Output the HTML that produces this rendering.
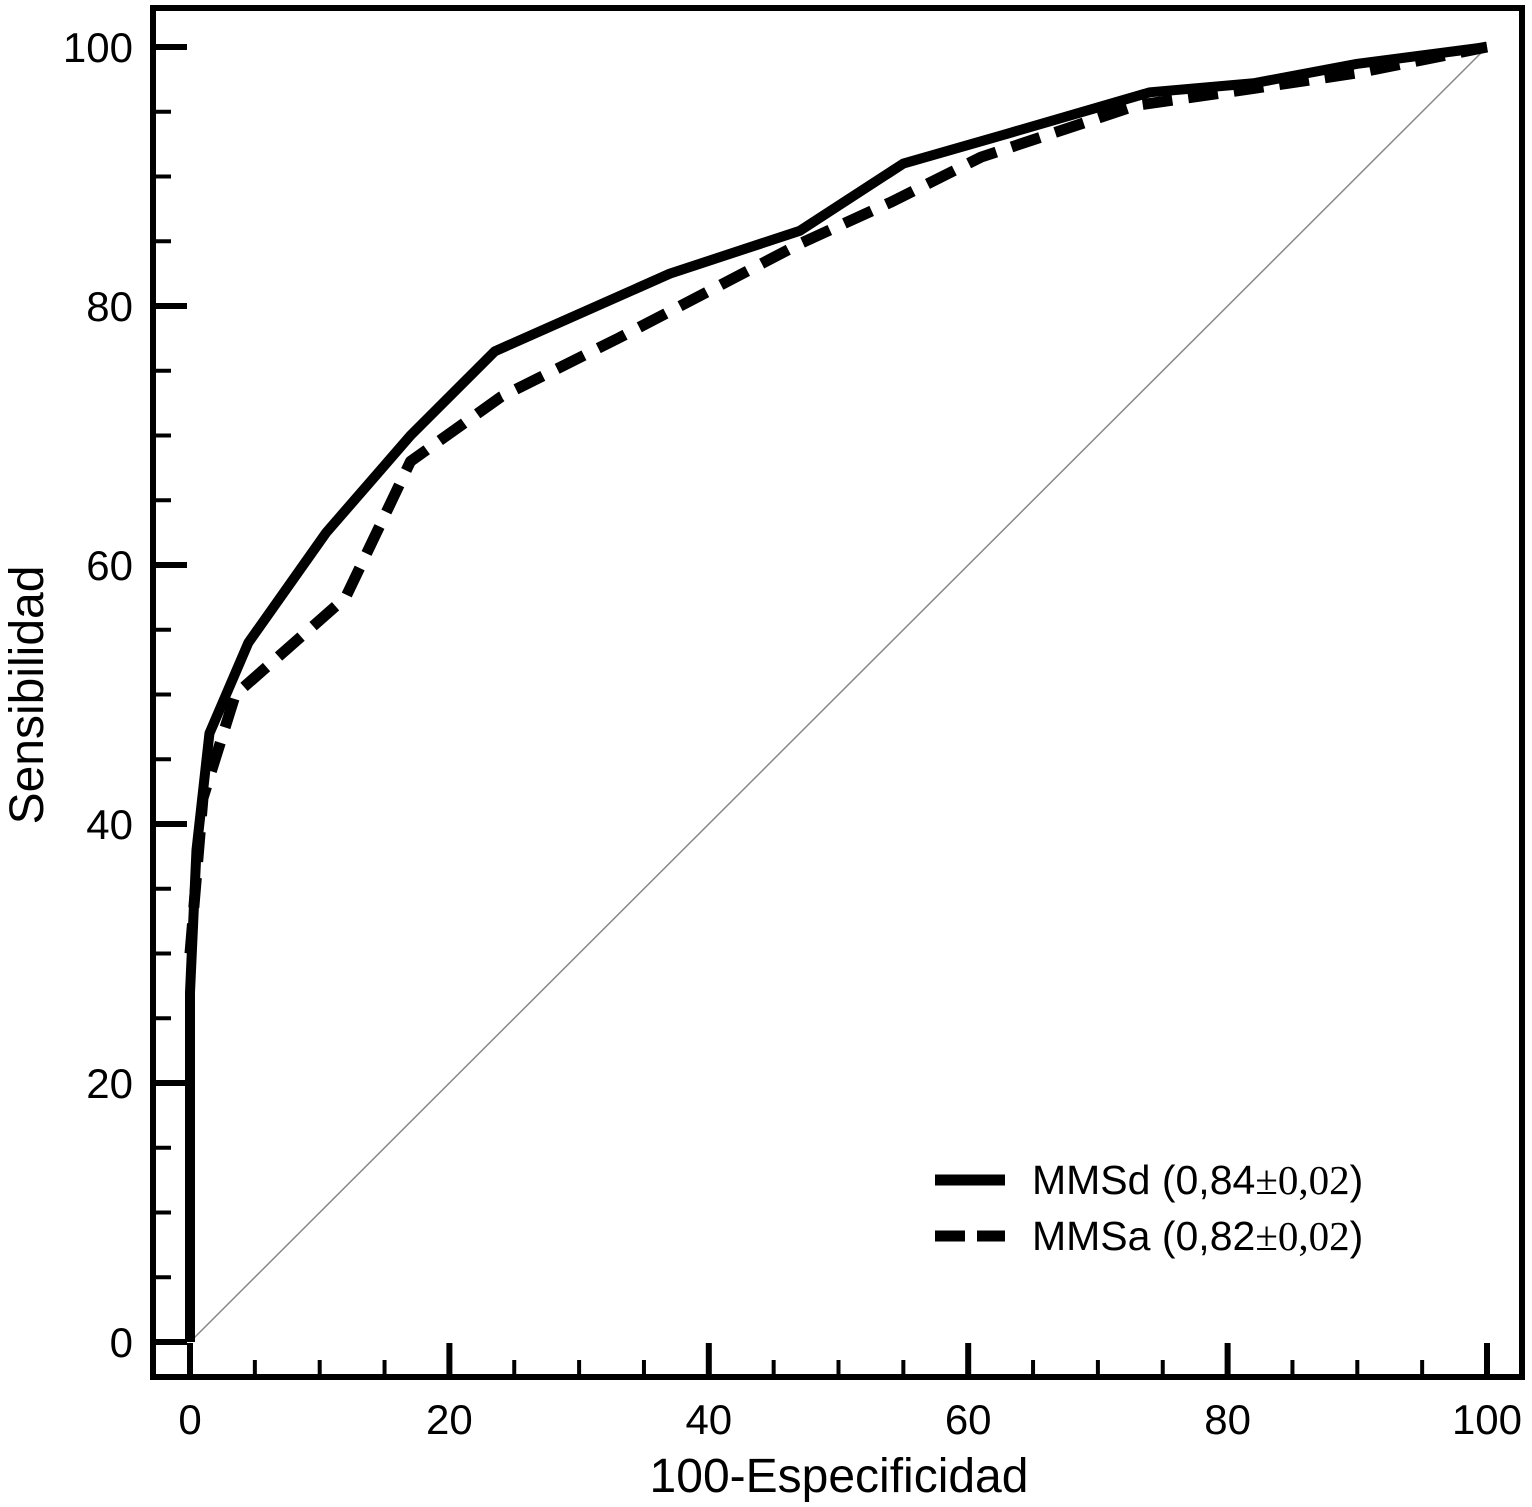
<!DOCTYPE html>
<html><head><meta charset="utf-8"><style>
body{margin:0;background:#fff}
svg text{font-family:"Liberation Sans",sans-serif;fill:#000}
</style></head><body>
<svg width="1532" height="1502" viewBox="0 0 1532 1502" xmlns="http://www.w3.org/2000/svg">
<rect x="153" y="8" width="1369" height="1369" fill="none" stroke="#000" stroke-width="6"/>
<g id="ticks"></g>
<g id="labels"></g>
<line id="diag" stroke="#888" stroke-width="1.5"/>
<polyline id="dashed" fill="none" stroke="#000" stroke-width="11" stroke-dasharray="30,16" stroke-linejoin="round"/>
<polyline id="solid" fill="none" stroke="#000" stroke-width="10" stroke-linejoin="round"/>
<text x="839" y="1492" font-size="48" text-anchor="middle">100-Especificidad</text>
<text transform="translate(43,695) rotate(-90)" font-size="48" text-anchor="middle">Sensibilidad</text>
<g>
<line x1="935" y1="1180" x2="1005" y2="1180" stroke="#000" stroke-width="11"/>
<text x="1032" y="1194" font-size="41">MMSd (0,84<tspan font-family="Liberation Serif">±0,02</tspan>)</text>
<line x1="935" y1="1236" x2="1005" y2="1236" stroke="#000" stroke-width="11" stroke-dasharray="30,12"/>
<text x="1032" y="1250" font-size="41">MMSa (0,82<tspan font-family="Liberation Serif">±0,02</tspan>)</text>
</g>
</svg>
<script>
const mmsdX=[0,0,0.5,1.5,4.5,10.5,17,23.5,37,47,55,63,74,82,90,100];
const mmsdY=[0,27,38,47,54,62.5,70,76.5,82.5,85.8,91,93.3,96.5,97.2,98.7,100];
const mmsaX=[0,1,3.5,12,17,24,33,47,54,61,73,82,90,100];
const mmsaY=[30,42,50,57.5,68,73,77.5,84.8,88,91.5,95.5,96.8,98,100];
const tickLabels=[0,20,40,60,80,100];
const sx=v=>190+v*12.97, sy=v=>1342-v*12.95;
const NS="http://www.w3.org/2000/svg";
const pts=(X,Y)=>X.map((x,i)=>sx(x)+","+sy(Y[i])).join(" ");
document.getElementById('solid').setAttribute('points',pts(mmsdX,mmsdY));
document.getElementById('dashed').setAttribute('points',pts(mmsaX,mmsaY));
const d=document.getElementById('diag');
d.setAttribute('x1',sx(0));d.setAttribute('y1',sy(0));d.setAttribute('x2',sx(100));d.setAttribute('y2',sy(100));
const tg=document.getElementById('ticks'),lg=document.getElementById('labels');
for(let v=0;v<=100;v+=5){
 const major=v%20===0;
 let l=document.createElementNS(NS,'line');
 
 
 l.setAttribute('x1',153);l.setAttribute('x2',major?187:171);l.setAttribute('y1',sy(v));l.setAttribute('y2',sy(v));
 l.setAttribute('stroke','#000');l.setAttribute('stroke-width',major?6:4);tg.appendChild(l);
 let m=document.createElementNS(NS,'line');
 
 
 m.setAttribute('y1',1377);m.setAttribute('y2',major?1343:1360);m.setAttribute('x1',sx(v));m.setAttribute('x2',sx(v));
 m.setAttribute('stroke','#000');m.setAttribute('stroke-width',major?6:4);tg.appendChild(m);
}
tickLabels.forEach(v=>{
 let t=document.createElementNS(NS,'text');
 
 
 t.setAttribute('x',133);t.setAttribute('y',sy(v)+15);t.setAttribute('text-anchor','end');t.setAttribute('font-size','42');
 t.textContent=v;lg.appendChild(t);
 let u=document.createElementNS(NS,'text');
 
 
 u.setAttribute('x',sx(v));u.setAttribute('y',1434);u.setAttribute('text-anchor','middle');u.setAttribute('font-size','42');
 u.textContent=v;lg.appendChild(u);
});
</script>
</body></html>
